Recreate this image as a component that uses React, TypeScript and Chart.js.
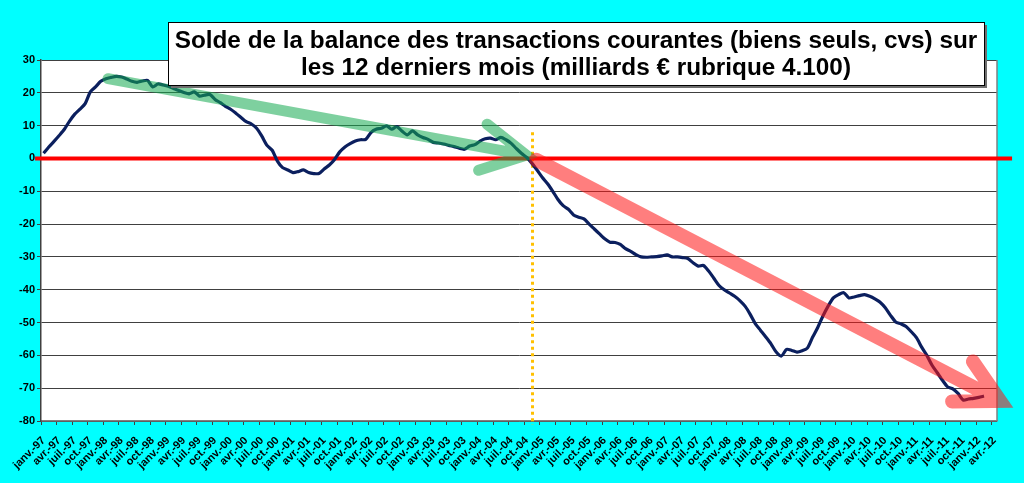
import { useEffect, useRef } from 'react';
import { Chart, registerables, Plugin } from 'chart.js';

Chart.register(...registerables);

// monthly categories janv-97 .. avr-12
const years = ['97', '98', '99', '00', '01', '02', '03', '04', '05', '06', '07', '08', '09', '10', '11', '12'];
const months = ['janv.', 'févr.', 'mars', 'avr.', 'mai', 'juin', 'juil.', 'août', 'sept.', 'oct.', 'nov.', 'déc.'];
const categories: string[] = years.flatMap(y => months.map(m => `${m}-${y}`)).slice(0, 184);

// solde sur 12 mois, milliards €, janv-97 .. févr-12
const solde = [
  1.6, 3.5, 5.2, 7.0, 8.9, 11.4, 13.5, 15.0, 16.7, 20.3, 21.8, 23.5,
  24.3, 24.7, 25.0, 24.8, 24.2, 23.5, 23.2, 23.6, 23.8, 21.8, 22.7, 22.4,
  22.0, 21.3, 20.7, 20.1, 19.7, 20.3, 19.0, 19.3, 19.5, 18.0, 17.0, 15.9,
  15.0, 13.8, 12.5, 11.2, 10.5, 9.2, 6.8, 4.0, 2.5, -0.8, -2.8, -3.5,
  -4.3, -4.0, -3.5, -4.3, -4.6, -4.6, -3.2, -2.0, -0.3, 2.0, 3.5, 4.5,
  5.3, 5.7, 5.8, 7.9, 8.9, 9.2, 9.9, 8.9, 9.7, 8.3, 7.2, 8.4,
  7.2, 6.4, 5.8, 4.9, 4.7, 4.4, 4.0, 3.6, 3.1, 2.8, 3.8, 4.2,
  5.3, 6.0, 6.2, 5.7, 6.4, 5.7, 4.6, 3.0, 1.5, 0.3, -1.5, -3.6,
  -5.8, -7.7, -10.0, -12.5, -14.4, -15.5, -17.2, -17.9, -18.4, -20.0, -21.5, -23.0,
  -24.5, -25.5, -25.6, -26.2, -27.5, -28.3, -29.3, -30.0, -30.1, -30.0, -29.9, -29.7,
  -29.4, -30.0, -30.0, -30.2, -30.5, -31.8, -32.8, -32.6, -34.3, -36.5, -38.7, -40.0,
  -41.0, -42.0, -43.3, -45.0, -47.5, -50.4, -52.4, -54.4, -56.5, -59.0, -60.2, -58.2,
  -58.5, -59.0, -58.6, -57.8, -54.5, -51.5, -48.0, -45.0, -42.5, -41.5, -40.9, -42.5,
  -42.2, -41.8, -41.5, -42.0, -42.8, -43.8, -45.5, -47.8, -49.8, -50.4, -51.2, -52.8,
  -54.6, -57.5, -60.0, -63.0, -65.3, -67.6, -69.6, -70.2, -71.6, -73.6, -73.3, -73.1,
  -72.8, -72.4,
];

const yTicks = [30, 20, 10, 0, -10, -20, -30, -40, -50, -60, -70, -80];

const titleLines = [
  'Solde de la balance des transactions courantes (biens seuls, cvs) sur',
  'les 12 derniers mois (milliards € rubrique 4.100)',
];

// annotations, in (category index, value)
const greenArrow = { from: [12.4, 24.3], to: [92.9, 1.0] };
const redArrow = { from: [94.8, -0.4], to: [184.1, -73.9] };
const dottedAt = 94.1;

const FONT = "'Liberation Sans', Arial, sans-serif";

const annotations: Plugin<'line'> = {
  id: 'annotations',
  beforeDraw(chart) {
    const { ctx, chartArea: a } = chart;
    ctx.save();
    ctx.fillStyle = '#ffffff';
    ctx.fillRect(a.left, a.top, a.right - a.left, a.bottom - a.top);
    ctx.restore();
  },
  beforeDatasetsDraw(chart) {
    const { ctx, chartArea: a } = chart;
    const x = chart.scales.x;
    const y = chart.scales.y;
    ctx.save();
    // right border
    ctx.strokeStyle = '#808080';
    ctx.lineWidth = 1.5;
    ctx.beginPath();
    ctx.moveTo(a.right, a.top);
    ctx.lineTo(a.right, a.bottom);
    ctx.stroke();
    // dotted vertical
    ctx.strokeStyle = '#FFC000';
    ctx.lineWidth = 3;
    ctx.setLineDash([3, 3.5]);
    ctx.beginPath();
    ctx.moveTo(x.getPixelForValue(dottedAt), y.getPixelForValue(8));
    ctx.lineTo(x.getPixelForValue(dottedAt), y.getPixelForValue(-81.2));
    ctx.stroke();
    ctx.setLineDash([]);
    // zero line
    ctx.strokeStyle = '#FF0000';
    ctx.lineWidth = 4;
    ctx.beginPath();
    ctx.moveTo(x.getPixelForValue(-1.65), y.getPixelForValue(0));
    ctx.lineTo(x.getPixelForValue(186.4), y.getPixelForValue(0));
    ctx.stroke();
    ctx.restore();
  },
  afterDatasetsDraw(chart) {
    const { ctx } = chart;
    const x = chart.scales.x;
    const y = chart.scales.y;
    const drawArrow = (arrow: { from: number[]; to: number[] }, color: string, width: number, wing: number) => {
      const x0 = x.getPixelForValue(arrow.from[0]);
      const y0 = y.getPixelForValue(arrow.from[1]);
      const x1 = x.getPixelForValue(arrow.to[0]);
      const y1 = y.getPixelForValue(arrow.to[1]);
      const ang = Math.atan2(y0 - y1, x0 - x1);
      const spread = (28 * Math.PI) / 180;
      ctx.save();
      ctx.strokeStyle = color;
      ctx.lineWidth = width;
      ctx.lineCap = 'round';
      ctx.lineJoin = 'miter';
      ctx.beginPath();
      ctx.moveTo(x0, y0);
      ctx.lineTo(x1, y1);
      ctx.moveTo(x1 + wing * Math.cos(ang + spread), y1 + wing * Math.sin(ang + spread));
      ctx.lineTo(x1, y1);
      ctx.lineTo(x1 + wing * Math.cos(ang - spread), y1 + wing * Math.sin(ang - spread));
      ctx.stroke();
      ctx.restore();
    };
    drawArrow(greenArrow, 'rgba(20,170,80,0.55)', 11, 50);
    drawArrow(redArrow, 'rgba(255,20,20,0.55)', 14, 48);
  },
  afterDraw(chart) {
    const { ctx } = chart;
    const bx = 168, by = 22, bw = 816, bh = 63;
    ctx.save();
    ctx.fillStyle = '#6e6e6e';
    ctx.fillRect(bx + 3, by + 3, bw, bh);
    ctx.fillStyle = '#ffffff';
    ctx.fillRect(bx, by, bw, bh);
    ctx.strokeStyle = '#000000';
    ctx.lineWidth = 1;
    ctx.strokeRect(bx + 0.5, by + 0.5, bw, bh);
    ctx.font = `bold 22px ${FONT}`;
    const w = ctx.measureText(titleLines[0]).width;
    const size = (22 * 803) / w;
    ctx.font = `bold ${size.toFixed(2)}px ${FONT}`;
    ctx.fillStyle = '#000000';
    ctx.textAlign = 'center';
    ctx.textBaseline = 'middle';
    ctx.fillText(titleLines[0], bx + bw / 2, by + 19);
    ctx.fillText(titleLines[1], bx + bw / 2, by + 46);
    ctx.restore();
  },
};

export default function App() {
  const canvasRef = useRef<HTMLCanvasElement>(null);

  useEffect(() => {
    if (!canvasRef.current) return;
    const chart = new Chart(canvasRef.current, {
      type: 'line',
      data: {
        labels: categories,
        datasets: [
          {
            label: 'Solde',
            data: solde,
            borderColor: '#0B1F5E',
            borderWidth: 3.2,
            pointRadius: 0,
            tension: 0.25,
            fill: false,
          },
        ],
      },
      options: {
        animation: false,
        responsive: true,
        maintainAspectRatio: false,
        layout: { padding: { top: 60, right: 27, bottom: 0, left: 0 } },
        plugins: {
          legend: { display: false },
          title: { display: false },
          tooltip: { enabled: false },
        },
        scales: {
          x: {
            type: 'category',
            offset: true,
            afterFit: (scale) => {
              scale.height = 62;
            },
            grid: {
              offset: true,
              drawOnChartArea: false,
              tickLength: 4,
              tickColor: (c) => (c.index % 3 === 0 ? '#404040' : 'rgba(0,0,0,0)'),
            },
            border: { color: '#808080', width: 1.5 },
            ticks: {
              autoSkip: false,
              maxRotation: 45,
              minRotation: 45,
              padding: 9,
              color: '#000000',
              font: { family: FONT, size: 11, weight: 'bold' },
              callback: (_v, i) => (i % 3 === 0 ? categories[i] : ''),
            },
          },
          y: {
            min: -80,
            max: 30,
            afterFit: (scale) => {
              scale.width = 41;
            },
            afterBuildTicks: (scale) => {
              scale.ticks = yTicks.map(v => ({ value: v }));
            },
            grid: { color: '#404040', lineWidth: 1, tickLength: 4 },
            border: { color: '#404040', width: 1.5 },
            ticks: {
              padding: 2,
              color: '#000000',
              font: { family: FONT, size: 11, weight: 'bold' },
            },
          },
        },
      },
      plugins: [annotations],
    });
    return () => chart.destroy();
  }, []);

  return (
    <div style={{ position: 'fixed', left: 0, top: 0, width: 1024, height: 483, background: '#00FFFF' }}>
      <canvas ref={canvasRef} />
    </div>
  );
}
